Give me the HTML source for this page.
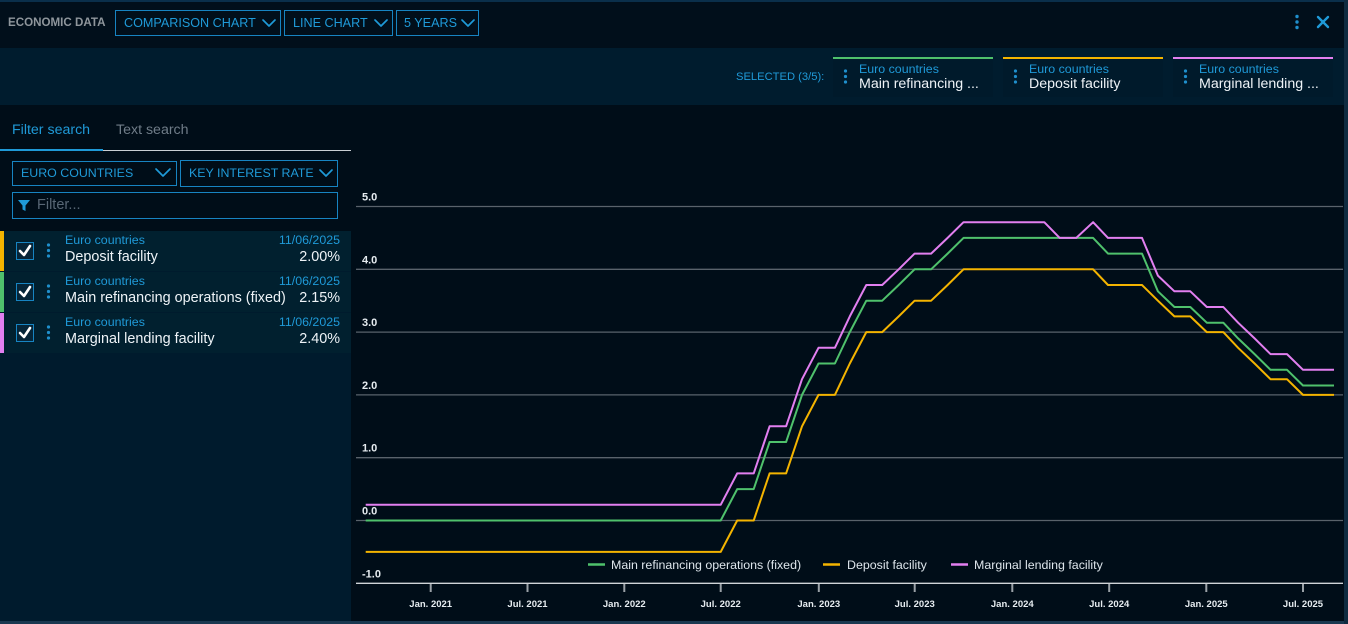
<!DOCTYPE html>
<html><head><meta charset="utf-8">
<style>
*{margin:0;padding:0;box-sizing:border-box}
html,body{width:1348px;height:624px;overflow:hidden;background:#000d18;font-family:"Liberation Sans",sans-serif}
.a{position:absolute}
.blue{color:#1f9ad8}
.t{white-space:nowrap}
</style></head><body>
<!-- backgrounds -->
<div class="a" style="left:0;top:0;width:1348px;height:48px;background:#010f1b;border-top:2px solid #0a2f4b"></div>
<div class="a" style="left:0;top:48px;width:1348px;height:57px;background:#001c2e"></div>
<div class="a" style="left:0;top:105px;width:1348px;height:519px;background:#000d18"></div>
<div class="a" style="left:0;top:231px;width:351px;height:390px;background:#001b2d"></div>
<div class="a" style="left:0;top:621px;width:1348px;height:3px;background:#1a3850"></div>
<div class="a" style="left:1344px;top:0;width:4px;height:624px;background:#0f2b40"></div>

<!-- top bar -->
<div class="a t" style="left:8px;top:15px;font-size:11.6px;font-weight:bold;color:#8f969c;line-height:16px">ECONOMIC DATA</div>
<div class="a" style="left:115px;top:10px;width:166px;height:26px;border:1px solid #1784c2"></div>
<div class="a t blue" style="left:124px;top:14px;font-size:12.6px;line-height:18px">COMPARISON CHART</div>
<div class="a" style="left:284px;top:10px;width:109px;height:26px;border:1px solid #1784c2"></div>
<div class="a t blue" style="left:293px;top:14px;font-size:12.6px;line-height:18px">LINE CHART</div>
<div class="a" style="left:396px;top:10px;width:83px;height:26px;border:1px solid #1784c2"></div>
<div class="a t blue" style="left:404px;top:14px;font-size:12.6px;line-height:18px">5 YEARS</div>

<!-- selected bar -->
<div class="a t blue" style="left:736px;top:69px;font-size:11.2px;line-height:16px">SELECTED (3/5):</div>
<div class="a" style="left:833px;top:57px;width:160px;height:40px;background:#001a2b;border-top:2px solid #4fc16c"></div>
<div class="a" style="left:1003px;top:57px;width:160px;height:40px;background:#001a2b;border-top:2px solid #f4b400"></div>
<div class="a" style="left:1173px;top:57px;width:160px;height:40px;background:#001a2b;border-top:2px solid #e27ff0"></div>
<div class="a t blue" style="left:859px;top:61px;font-size:12.4px;line-height:16px">Euro countries</div>
<div class="a t" style="left:859px;top:75px;font-size:14.2px;line-height:18px;color:#eef3f7">Main refinancing ...</div>
<div class="a t blue" style="left:1029px;top:61px;font-size:12.4px;line-height:16px">Euro countries</div>
<div class="a t" style="left:1029px;top:75px;font-size:14.2px;line-height:18px;color:#eef3f7">Deposit facility</div>
<div class="a t blue" style="left:1199px;top:61px;font-size:12.4px;line-height:16px">Euro countries</div>
<div class="a t" style="left:1199px;top:75px;font-size:14.2px;line-height:18px;color:#eef3f7">Marginal lending ...</div>

<!-- left panel -->
<div class="a t blue" style="left:12px;top:121px;font-size:14.2px;line-height:18px">Filter search</div>
<div class="a t" style="left:116px;top:121px;font-size:14.2px;line-height:18px;color:#6f7c88">Text search</div>
<div class="a" style="left:103px;top:150px;width:248px;height:1px;background:#c9ced3"></div>
<div class="a" style="left:0;top:149px;width:103px;height:2px;background:#1f9ad8"></div>

<div class="a" style="left:12px;top:161px;width:165px;height:25px;border:1px solid #1784c2"></div>
<div class="a t blue" style="left:21px;top:165px;font-size:12.4px;line-height:17px">EURO COUNTRIES</div>
<div class="a" style="left:180px;top:160px;width:158px;height:27px;border:1px solid #1784c2"></div>
<div class="a t blue" style="left:189px;top:165px;font-size:12.4px;line-height:17px">KEY INTEREST RATE</div>
<div class="a" style="left:12px;top:192px;width:326px;height:27px;border:1px solid #1784c2"></div>
<div class="a t" style="left:37px;top:196px;font-size:14.5px;line-height:18px;color:#586775">Filter...</div>

<!-- list rows -->
<div class="a" style="left:0;top:231px;width:351px;height:40px;background:#01202f"></div>
<div class="a" style="left:0;top:272px;width:351px;height:40px;background:#01202f"></div>
<div class="a" style="left:0;top:313px;width:351px;height:40px;background:#01202f"></div>
<div class="a" style="left:0;top:231px;width:4px;height:40px;background:#f4b400"></div>
<div class="a" style="left:0;top:272px;width:4px;height:40px;background:#4fc16c"></div>
<div class="a" style="left:0;top:313px;width:4px;height:40px;background:#e27ff0"></div>

<div class="a t blue" style="left:65px;top:232px;font-size:12.4px;line-height:16px">Euro countries</div>
<div class="a t blue" style="left:240px;top:232px;width:100px;text-align:right;font-size:12.4px;line-height:16px">11/06/2025</div>
<div class="a t" style="left:65px;top:248px;font-size:14.4px;line-height:18px;color:#eef3f7">Deposit facility</div>
<div class="a t" style="left:240px;top:248px;width:100px;text-align:right;font-size:14.4px;line-height:18px;color:#eef3f7">2.00%</div>

<div class="a t blue" style="left:65px;top:273px;font-size:12.4px;line-height:16px">Euro countries</div>
<div class="a t blue" style="left:240px;top:273px;width:100px;text-align:right;font-size:12.4px;line-height:16px">11/06/2025</div>
<div class="a t" style="left:65px;top:289px;font-size:14.4px;line-height:18px;color:#eef3f7">Main refinancing operations (fixed)</div>
<div class="a t" style="left:240px;top:289px;width:100px;text-align:right;font-size:14.4px;line-height:18px;color:#eef3f7">2.15%</div>

<div class="a t blue" style="left:65px;top:314px;font-size:12.4px;line-height:16px">Euro countries</div>
<div class="a t blue" style="left:240px;top:314px;width:100px;text-align:right;font-size:12.4px;line-height:16px">11/06/2025</div>
<div class="a t" style="left:65px;top:330px;font-size:14.4px;line-height:18px;color:#eef3f7">Marginal lending facility</div>
<div class="a t" style="left:240px;top:330px;width:100px;text-align:right;font-size:14.4px;line-height:18px;color:#eef3f7">2.40%</div>

<!-- checkboxes -->
<div class="a" style="left:16px;top:242px;width:18px;height:18px;border:1px solid #1784c2;background:#062538"></div>
<div class="a" style="left:16px;top:283px;width:18px;height:18px;border:1px solid #1784c2;background:#062538"></div>
<div class="a" style="left:16px;top:324px;width:18px;height:18px;border:1px solid #1784c2;background:#062538"></div>

<svg class="a" style="left:0;top:0" width="1348" height="624" viewBox="0 0 1348 624" xmlns="http://www.w3.org/2000/svg">
  <!-- chevrons -->
  <g fill="none" stroke="#1f9ad8" stroke-width="1.7" stroke-linecap="round" stroke-linejoin="round">
    <polyline points="263,20 269,26 275,20"/>
    <polyline points="375,20 381,26 387,20"/>
    <polyline points="462,20 468,26 474,20"/>
    <polyline points="156,169 163,176 170,169"/>
    <polyline points="320,170 326,176 332,170"/>
  </g>
  <!-- close X -->
  <g stroke="#1f9ad8" stroke-width="2.4" stroke-linecap="round">
    <line x1="1318" y1="17" x2="1328" y2="27"/>
    <line x1="1328" y1="17" x2="1318" y2="27"/>
  </g>
  <!-- kebabs -->
  <g fill="#1f8fcc">
    <circle cx="1297" cy="16.5" r="1.7"/><circle cx="1297" cy="22" r="1.7"/><circle cx="1297" cy="27.5" r="1.7"/>
    <circle cx="845.5" cy="71" r="1.6"/><circle cx="845.5" cy="76.5" r="1.6"/><circle cx="845.5" cy="82" r="1.6"/>
    <circle cx="1015.5" cy="71" r="1.6"/><circle cx="1015.5" cy="76.5" r="1.6"/><circle cx="1015.5" cy="82" r="1.6"/>
    <circle cx="1185.5" cy="71" r="1.6"/><circle cx="1185.5" cy="76.5" r="1.6"/><circle cx="1185.5" cy="82" r="1.6"/>
    <circle cx="48.5" cy="245" r="1.6"/><circle cx="48.5" cy="250.5" r="1.6"/><circle cx="48.5" cy="256" r="1.6"/>
    <circle cx="48.5" cy="286" r="1.6"/><circle cx="48.5" cy="291.5" r="1.6"/><circle cx="48.5" cy="297" r="1.6"/>
    <circle cx="48.5" cy="327" r="1.6"/><circle cx="48.5" cy="332.5" r="1.6"/><circle cx="48.5" cy="338" r="1.6"/>
  </g>
  <!-- funnel -->
  <polygon points="18,200 30,200 25.5,205.5 25.5,211 22.5,209.5 22.5,205.5" fill="#1f9ad8"/>
  <!-- checkmarks -->
  <g fill="none" stroke="#ffffff" stroke-width="2.6" stroke-linecap="round" stroke-linejoin="round">
    <polyline points="20,251 24,255 30,246"/>
    <polyline points="20,292 24,296 30,287"/>
    <polyline points="20,333 24,337 30,328"/>
  </g>

  <!-- grid -->
  <g stroke="#59626b" stroke-width="1.3">
    <line x1="356" y1="206.5" x2="1343" y2="206.5"/>
    <line x1="356" y1="269.3" x2="1343" y2="269.3"/>
    <line x1="356" y1="332.1" x2="1343" y2="332.1"/>
    <line x1="356" y1="394.9" x2="1343" y2="394.9"/>
    <line x1="356" y1="457.7" x2="1343" y2="457.7"/>
    <line x1="356" y1="520.5" x2="1343" y2="520.5"/>
  </g>
  <line x1="356" y1="583.3" x2="1343" y2="583.3" stroke="#d0d4d8" stroke-width="1.3"/>
  <g stroke="#9aa1a7" stroke-width="2">
    <line x1="430.7" y1="584" x2="430.7" y2="592"/>
    <line x1="527.5" y1="584" x2="527.5" y2="592"/>
    <line x1="624.3" y1="584" x2="624.3" y2="592"/>
    <line x1="720.7" y1="584" x2="720.7" y2="592"/>
    <line x1="818.8" y1="584" x2="818.8" y2="592"/>
    <line x1="914.7" y1="584" x2="914.7" y2="592"/>
    <line x1="1012.3" y1="584" x2="1012.3" y2="592"/>
    <line x1="1109.2" y1="584" x2="1109.2" y2="592"/>
    <line x1="1206.3" y1="584" x2="1206.3" y2="592"/>
    <line x1="1303" y1="584" x2="1303" y2="592"/>
  </g>
  <g font-family="Liberation Sans, sans-serif" font-size="11" font-weight="bold" fill="#e6ecf0">
    <text x="362" y="200.5">5.0</text>
    <text x="362" y="263.3">4.0</text>
    <text x="362" y="326.1">3.0</text>
    <text x="362" y="388.9">2.0</text>
    <text x="362" y="451.7">1.0</text>
    <text x="362" y="514.5">0.0</text>
    <text x="362" y="577.3">-1.0</text>
  </g>
  <g font-family="Liberation Sans, sans-serif" font-size="9.5" font-weight="bold" fill="#e6ecf0" text-anchor="middle">
    <text x="430.7" y="607">Jan. 2021</text>
    <text x="527.5" y="607">Jul. 2021</text>
    <text x="624.3" y="607">Jan. 2022</text>
    <text x="720.7" y="607">Jul. 2022</text>
    <text x="818.8" y="607">Jan. 2023</text>
    <text x="914.7" y="607">Jul. 2023</text>
    <text x="1012.3" y="607">Jan. 2024</text>
    <text x="1109.2" y="607">Jul. 2024</text>
    <text x="1206.3" y="607">Jan. 2025</text>
    <text x="1303" y="607">Jul. 2025</text>
  </g>

  <!-- series -->
  <g fill="none" stroke-width="2" stroke-linejoin="round">
    <polyline stroke="#f4b400" points="365.7,551.9 720.7,551.9 737.2,520.5 753.7,520.5 769.6,473.4 786.1,473.4 802.0,426.3 818.5,394.9 834.9,394.9 849.8,363.5 866.3,332.1 882.2,332.1 898.7,316.4 914.6,300.7 931.1,300.7 947.6,285.0 963.5,269.3 1093.1,269.3 1108,285.0 1142.0,285.0 1157.9,300.7 1174.4,316.4 1190.3,316.4 1206.8,332.1 1223.3,332.1 1238.1,347.8 1254.6,363.5 1270.5,379.2 1287.0,379.2 1303.0,394.9 1334,394.9"/>
    <polyline stroke="#4fc16c" points="365.7,520.5 720.7,520.5 737.2,489.1 753.7,489.1 769.6,442.0 786.1,442.0 802.0,394.9 818.5,363.5 834.9,363.5 849.8,332.1 866.3,300.7 882.2,300.7 898.7,285.0 914.6,269.3 931.1,269.3 947.6,253.6 963.5,237.9 1093.1,237.9 1108,253.6 1142.0,253.6 1157.9,291.3 1174.4,307.0 1190.3,307.0 1206.8,322.7 1223.3,322.7 1238.1,338.4 1254.6,354.1 1270.5,369.8 1287.0,369.8 1303.0,385.5 1334,385.5"/>
    <polyline stroke="#e27ff0" points="365.7,504.8 720.7,504.8 737.2,473.4 753.7,473.4 769.6,426.3 786.1,426.3 802.0,379.2 818.5,347.8 834.9,347.8 849.8,316.4 866.3,285.0 882.2,285.0 898.7,269.3 914.6,253.6 931.1,253.6 947.6,237.9 963.5,222.2 1044.3,222.2 1059.7,237.9 1076.3,237.9 1093.1,222.2 1108,237.9 1142.0,237.9 1157.9,275.6 1174.4,291.3 1190.3,291.3 1206.8,307.0 1223.3,307.0 1238.1,322.7 1254.6,338.4 1270.5,354.1 1287.0,354.1 1303.0,369.8 1334,369.8"/>
  </g>

  <!-- legend -->
  <g stroke-width="2.5">
    <line x1="588" y1="564.5" x2="605" y2="564.5" stroke="#4fc16c"/>
    <line x1="823" y1="564.5" x2="840" y2="564.5" stroke="#f4b400"/>
    <line x1="951" y1="564.5" x2="968" y2="564.5" stroke="#e27ff0"/>
  </g>
  <g font-family="Liberation Sans, sans-serif" font-size="12.4" fill="#dde5eb">
    <text x="611" y="569">Main refinancing operations (fixed)</text>
    <text x="847" y="569">Deposit facility</text>
    <text x="974" y="569">Marginal lending facility</text>
  </g>
</svg>
</body></html>
